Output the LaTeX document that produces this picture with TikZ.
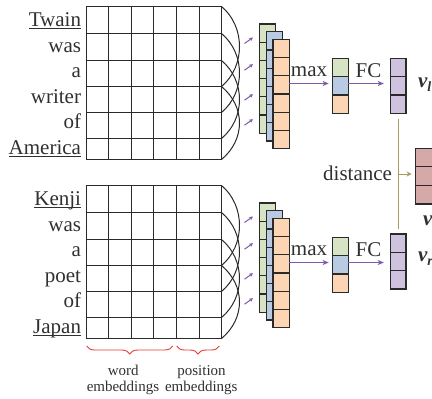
\documentclass[tikz,border=0pt]{standalone}
\usepackage{fontspec}
\setmainfont{Liberation Serif}
\usetikzlibrary{decorations.pathreplacing,arrows.meta,calc}
\definecolor{gridc}{HTML}{2A2A2A}
\definecolor{txtc}{HTML}{303030}
\definecolor{cgreen}{HTML}{D6E4C3}
\definecolor{cblue}{HTML}{B8CBE3}
\definecolor{corange}{HTML}{FCD5B4}
\definecolor{cpurple}{HTML}{CEC2DE}
\definecolor{cpink}{HTML}{D5A9A8}
\definecolor{arrowp}{HTML}{7E5BA8}
\definecolor{olivec}{HTML}{A39B60}
\definecolor{bracered}{HTML}{E53935}
\newcommand{\myblock}[8]{%
\begin{scope}[shift={(0,#1)}]
 \node[wordlbl] (#2w1) at (81,26.7) {#3};
 \node[wordlbl] (#2w2) at (81,52.2) {#4};
 \node[wordlbl] (#2w3) at (81,77.7) {#5};
 \node[wordlbl] (#2w4) at (81,103.2) {#6};
 \node[wordlbl] (#2w5) at (81,128.7) {#7};
 \node[wordlbl] (#2w6) at (81,154.2) {#8};
 \draw[ulin] ([yshift=-2pt]#2w1.base west) -- ([yshift=-2pt]#2w1.base east);
 \draw[ulin] ([yshift=-2pt]#2w6.base west) -- ([yshift=-2pt]#2w6.base east);
 \node[minimum width=135pt,minimum height=153pt] (#2grid) at (154,83) {};
 \foreach \xx in {108.5,131.5,153.5,176.5,199.5} \draw[gridln] (\xx,6.5) -- (\xx,159.5);
 \foreach \yy in {33.5,60.5,86.5,112.5,138.5} \draw[gridln] (86.5,\yy) -- (221.5,\yy);
 \draw[gridln] (86.5,6.5) rectangle (221.5,159.5);
 \foreach \a/\b in {6.5/86.5, 33.5/112.5, 60.5/138.5, 86.5/159.5}
   \draw[arcln] (221.5,\a) .. controls (245.5,{\a+20}) and (245.5,{\b-20}) .. (221.5,\b);
 \foreach \c in {40,66.7,96.7,121.7}
   \draw[smallarr] (244.5,{\c+3.5}) -- (253,{\c-2.5});
 \foreach \cc/\x/\y in {cgreen/259.5/24, cblue/266.2/31.7, corange/272.9/39.4}
   \foreach \k in {0,...,5}
     \draw[cellln,fill=\cc] (\x,{\y+18.2*\k}) rectangle ++(16.3,18.2);
 \node[minimum width=16.3pt,minimum height=109.2pt] (#2fm) at (281.05,94) {};
 \foreach \cc [count=\i from 0] in {cgreen,cblue,corange}
   \draw[cellln,fill=\cc] (332.7,{58.3+18.33*\i}) rectangle ++(15.6,18.33);
 \node[minimum width=15.6pt,minimum height=55pt] (#2pool) at (340.5,85.8) {};
 \coordinate (#2ay) at (0,83.5);
 \draw[flow,shorten >=4pt] (#2fm.east |- #2ay) -- (#2pool.west |- #2ay);
 \draw[flow,shorten >=6.5pt] (#2pool.east |- #2ay) -- (#2fc.west |- #2ay);
 \node[opl,anchor=base] (#2max) at (309,76.7) {max};
 \node[opl,anchor=base] (#2fclbl) at (368.5,77) {FC};
\end{scope}}
\begin{document}
\begin{tikzpicture}[x=1pt,y=-1pt,
  every node/.style={inner sep=0pt,outer sep=0pt},
  gridln/.style={draw=gridc,line width=1.4pt},
  arcln/.style={draw=gridc,line width=1pt},
  cellln/.style={draw=gridc,line width=1.2pt},
  wordlbl/.style={anchor=base east,font=\fontsize{21}{23}\selectfont,text=txtc},
  opl/.style={font=\fontsize{21}{23}\selectfont,text=txtc},
  sml/.style={font=\fontsize{15}{17}\selectfont,text=txtc,anchor=base},
  ulin/.style={draw=txtc,line width=0.9pt},
  flow/.style={draw=arrowp,line width=1pt,-{Stealth[length=6pt,width=5pt,inset=1.5pt]}},
  smallarr/.style={draw=arrowp,line width=1pt,-{Stealth[length=4pt,width=4pt]}},
  vlab/.style={font=\fontsize{21}{23}\selectfont\bfseries\itshape,text=txtc,anchor=base west},
]
\useasboundingbox (0,0) rectangle (432,399);
% FC output vectors
\foreach \cc [count=\i from 0] in {cpurple,cpurple,cpurple}
  \draw[cellln,fill=\cc] (390.3,{58.3+18.33*\i}) rectangle ++(15.7,18.33);
\node[minimum width=15.7pt,minimum height=55pt] (Tfc) at (398.15,85.8) {};
\foreach \cc [count=\i from 0] in {cpurple,cpurple,cpurple}
  \draw[cellln,fill=\cc] (390.3,{234+18.33*\i}) rectangle ++(15.7,18.33);
\node[minimum width=15.7pt,minimum height=55pt] (Bfc) at (398.15,261.5) {};
\node[vlab] (vl) at (418,87) {v\raisebox{-4pt}{\fontsize{14}{14}\selectfont l}};
\node[vlab] (vr) at (418,261) {v\raisebox{-4pt}{\fontsize{14}{14}\selectfont r}};
% blocks
\myblock{0}{T}{Twain}{was}{a}{writer}{of}{America}
\myblock{179}{B}{Kenji}{was}{a}{poet}{of}{Japan}
% distance vector
\foreach \i in {0,1,2}
  \draw[cellln,fill=cpink] (415.7,{148.3+18.57*\i}) rectangle ++(25,18.57);
\node[minimum width=25pt,minimum height=55.7pt] (dv) at (428.2,176.15) {};
\node[vlab] (vd) at (423,225) {v};
\draw[draw=olivec,line width=1pt] ([yshift=-6pt]Tfc.south) -- ([yshift=5pt]Bfc.north);
\coordinate (dj) at (399,174);
\draw[draw=olivec,line width=1pt,-{Stealth[length=5pt,width=5pt,inset=1.5pt]},shorten >=4pt] (dj) -- (dv.west |- dj);
\node[opl,anchor=base east] (dist) at (392,180) {distance};
% braces
\draw[draw=bracered,line width=0.9pt,decorate,decoration={brace,mirror,amplitude=8pt}] (86.7,346) -- (172.7,346);
\draw[draw=bracered,line width=0.9pt,decorate,decoration={brace,mirror,amplitude=8pt}] (176.7,346) -- (219.3,346);
\node[sml] (we1) at (123.3,375) {word};
\node[sml] (we2) at (123,391.7) {embeddings};
\node[sml] (pe1) at (201.5,375) {position};
\node[sml] (pe2) at (201.3,391.7) {embeddings};
\end{tikzpicture}
\end{document}
